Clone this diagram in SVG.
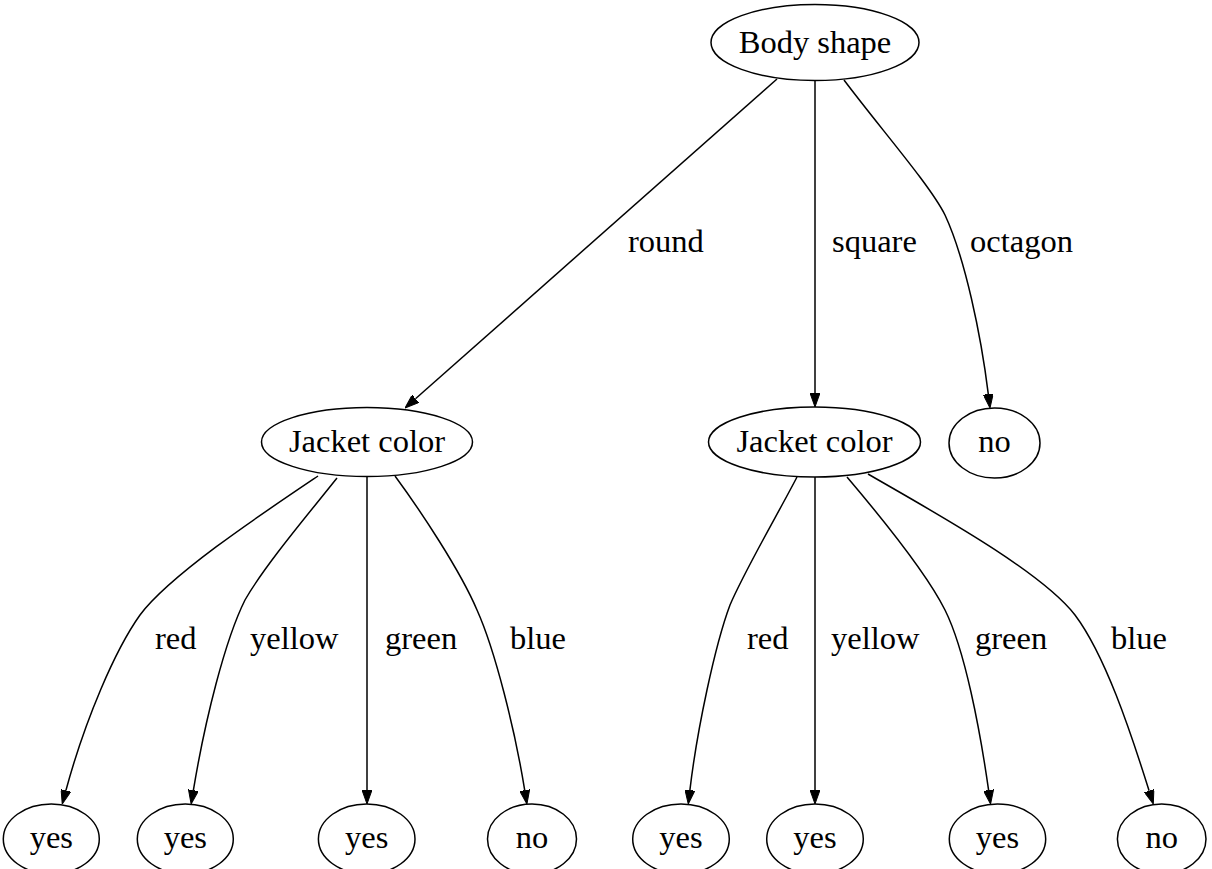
<svg xmlns="http://www.w3.org/2000/svg" width="1212" height="869" viewBox="0 0 1212 869">
<style>
.n ellipse{fill:#fff;stroke:#000;stroke-width:1.5}
text{font-family:"Liberation Serif","Times New Roman",serif;font-size:32.5px;fill:#000}
.n text{text-anchor:middle}
.e path{fill:none;stroke:#000;stroke-width:1.5;marker-end:url(#ah)}
</style>
<defs>
<marker id="ah" markerUnits="userSpaceOnUse" markerWidth="14" markerHeight="10" refX="0" refY="5" orient="auto">
<path d="M0,0 L14,5 L0,10 z" fill="#000" stroke="#000" stroke-width="1"/>
</marker>
</defs>
<rect width="1212" height="869" fill="#fff"/>
<g id="edges" class="e">
<path d="M777,79 L415.5,398.7"/>
<path d="M815,81 L815,393"/>
<path d="M844,80 C880,128 930,185 945,215 C965,258 981,335 988.3,394.1"/>
<path d="M318,476 C260,515 170,575 140,615 C115,650 85,720 65.9,790.5"/>
<path d="M337,478 C310,512 265,565 245,600 C225,640 205,720 193.4,790.2"/>
<path d="M367,477 L367,790"/>
<path d="M395,476 C420,510 460,570 477,610 C495,650 515,730 524.7,790.2"/>
<path d="M797,477 C780,510 745,570 730,605 C715,645 697,730 689.9,790.1"/>
<path d="M815,477 L815,790"/>
<path d="M847,477 C875,510 925,570 945,610 C965,650 980,730 988.6,790.2"/>
<path d="M868,474 C930,510 1040,570 1075,615 C1105,655 1130,730 1149.1,790.7"/>
</g>
<g id="edge-labels">
<text x="628" y="252">round</text>
<text x="832" y="252">square</text>
<text x="970" y="252">octagon</text>
<text x="155" y="649">red</text>
<text x="250" y="649">yellow</text>
<text x="385" y="649">green</text>
<text x="510" y="649">blue</text>
<text x="747" y="649">red</text>
<text x="831" y="649">yellow</text>
<text x="975" y="649">green</text>
<text x="1111" y="649">blue</text>
</g>
<g id="body" class="n"><ellipse cx="815" cy="42.5" rx="104" ry="38"/><text x="815" y="53">Body shape</text></g>
<g id="jacket1" class="n"><ellipse cx="367" cy="442" rx="105.5" ry="34.5"/><text x="367" y="452">Jacket color</text></g>
<g id="jacket2" class="n"><ellipse cx="814.5" cy="442" rx="106" ry="35"/><text x="814.5" y="452">Jacket color</text></g>
<g id="no0" class="n"><ellipse cx="994.5" cy="443" rx="45.5" ry="35"/><text x="994.5" y="452">no</text></g>
<g id="yes1" class="n"><ellipse cx="51.3" cy="839" rx="48" ry="35"/><text x="51.3" y="848">yes</text></g>
<g id="yes2" class="n"><ellipse cx="185.3" cy="839" rx="48" ry="35"/><text x="185.3" y="848">yes</text></g>
<g id="yes3" class="n"><ellipse cx="366.7" cy="839" rx="48.3" ry="35"/><text x="366.7" y="848">yes</text></g>
<g id="no1" class="n"><ellipse cx="532" cy="839" rx="44.5" ry="35"/><text x="532" y="848">no</text></g>
<g id="yes4" class="n"><ellipse cx="681" cy="839" rx="48.3" ry="35"/><text x="681" y="848">yes</text></g>
<g id="yes5" class="n"><ellipse cx="815" cy="839" rx="48.3" ry="35"/><text x="815" y="848">yes</text></g>
<g id="yes6" class="n"><ellipse cx="997.5" cy="839" rx="48.2" ry="35"/><text x="997.5" y="848">yes</text></g>
<g id="no2" class="n"><ellipse cx="1161.7" cy="839" rx="44.3" ry="35"/><text x="1161.7" y="848">no</text></g>
</svg>
